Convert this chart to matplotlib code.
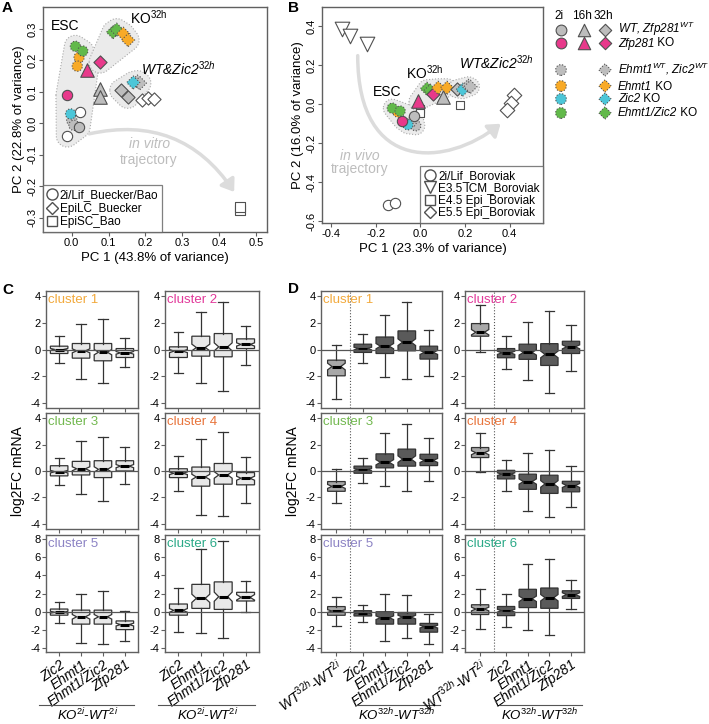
import numpy as np
import matplotlib
matplotlib.use("Agg")
import matplotlib.pyplot as plt
from matplotlib.patches import Polygon, FancyArrowPatch
from matplotlib.path import Path
from matplotlib.lines import Line2D

plt.rcParams['font.family'] = ['Liberation Sans', 'DejaVu Sans']
plt.rcParams['mathtext.fontset'] = 'custom'
plt.rcParams['mathtext.rm'] = 'Liberation Sans'
plt.rcParams['mathtext.it'] = 'Liberation Sans:italic'
plt.rcParams['mathtext.bf'] = 'Liberation Sans:bold'
plt.rcParams['axes.unicode_minus'] = False

# ---------------- DATA: PCA panel A (PC1, PC2) ----------------
a_wt_2i = [(0.02, -0.012)]
a_wt_16h = [(0.077, 0.108), (0.077, 0.085)]
a_wt_32h = [(0.133, 0.105), (0.152, 0.083)]
a_zfp_2i = [(-0.013, 0.09)]
a_zfp_16h = [(0.042, 0.17)]
a_zfp_32h = [(0.077, 0.195)]
a_ctl_2i = [(0.0, 0.01), (0.006, -0.006)]
a_ctl_32h = [(0.178, 0.133), (0.185, 0.128)]
a_ehmt_2i = [(0.02, 0.21), (0.015, 0.182)]
a_ehmt_32h = [(0.14, 0.285), (0.153, 0.265)]
a_zic_2i = [(-0.003, 0.03)]
a_zic_32h = [(0.167, 0.13)]
a_dko_2i = [(0.01, 0.245), (0.03, 0.23)]
a_dko_32h = [(0.112, 0.29), (0.122, 0.298)]
a_pub_2i = [(0.022, 0.035), (-0.012, -0.04)]
a_epilc = [(0.19, 0.075), (0.208, 0.08), (0.223, 0.077)]
a_episc = [(0.456, -0.276), (0.458, -0.266)]

# ---------------- DATA: PCA panel B ----------------
b_wt_2i = [(-0.03, -0.06)]
b_wt_16h = [(0.10, 0.04)]
b_wt_32h = [(0.165, 0.08)]
b_zfp_2i = [(-0.08, -0.085)]
b_zfp_16h = [(-0.01, 0.015)]
b_zfp_32h = [(0.055, 0.055)]
b_ctl_2i = [(-0.02, -0.11), (-0.04, -0.09)]
b_ctl_32h = [(0.215, 0.095), (0.225, 0.09)]
b_ehmt_2i = [(-0.1, -0.04)]
b_ehmt_32h = [(0.08, 0.085), (0.12, 0.085)]
b_zic_2i = [(-0.055, -0.105)]
b_zic_32h = [(0.19, 0.075)]
b_dko_2i = [(-0.125, -0.02), (-0.09, -0.035)]
b_dko_32h = [(0.03, 0.08), (0.045, 0.07)]
b_bor_2i = [(-0.145, -0.52), (-0.115, -0.505)]
b_e35 = [(-0.35, 0.385), (-0.315, 0.35), (-0.24, 0.31)]
b_e45 = [(0.0, -0.025), (0.0, -0.045), (0.18, -0.005)]
b_e55 = [(0.42, 0.048), (0.405, 0.008), (0.39, -0.03)]

# ---------------- DATA: boxplots ----------------
clusters = ['cluster 1', 'cluster 2', 'cluster 3', 'cluster 4', 'cluster 5', 'cluster 6']
cluster_colors = ['#f2a93b', '#e2399a', '#72b84f', '#e8743b', '#8c83c4', '#2aa987']
ko_labels = ['Zic2', 'Ehmt1', 'Ehmt1/Zic2', 'Zfp281']

c_med = [[0.0, -0.1, -0.2, -0.25], [-0.12, 0.15, 0.2, 0.38], [-0.05, 0.17, 0.12, 0.37],
         [-0.17, -0.45, -0.3, -0.55], [-0.05, -0.55, -0.55, -1.4], [0.15, 1.47, 1.65, 1.58]]
c_q1 = [[-0.3, -0.65, -0.85, -0.6], [-0.6, -0.5, -0.55, 0.07], [-0.37, -0.3, -0.5, 0.0],
        [-0.5, -1.15, -1.0, -1.05], [-0.37, -1.35, -1.35, -1.95], [-0.37, 0.37, 0.26, 1.18]]
c_q3 = [[0.25, 0.45, 0.45, 0.07], [0.2, 1.0, 1.2, 0.8], [0.4, 0.73, 0.78, 0.78],
        [0.17, 0.3, 0.57, -0.12], [0.3, 0.18, 0.18, -1.0], [0.85, 3.0, 3.27, 2.13]]
c_lo = [[-1.05, -2.2, -2.55, -1.35], [-1.8, -2.5, -3.15, -1.15], [-1.05, -1.75, -2.3, -0.98],
        [-1.5, -3.3, -3.4, -2.4], [-1.25, -3.4, -3.5, -3.25], [-2.2, -2.28, -2.83, -0.07]]
c_hi = [[1.0, 1.9, 2.3, 0.9], [1.3, 2.8, 3.6, 1.8], [1.0, 2.27, 2.55, 1.83],
        [1.17, 2.45, 2.93, 1.1], [1.1, 2.0, 2.3, 0.1], [2.57, 6.87, 7.7, 3.38]]
c_notch = [[0.08, 0.15, 0.2, 0.1], [0.12, 0.25, 0.3, 0.12], [0.1, 0.15, 0.2, 0.12],
           [0.1, 0.2, 0.25, 0.15], [0.1, 0.25, 0.25, 0.15], [0.2, 0.45, 0.5, 0.3]]

d_med = [[-1.28, 0.07, 0.25, 0.55, -0.22], [1.3, -0.25, -0.22, -0.37, 0.2], [-1.17, 0.1, 0.66, 0.9, 0.8],
         [1.39, -0.24, -0.8, -0.98, -1.1], [0.08, -0.12, -0.65, -0.58, -1.62], [0.3, 0.12, 1.42, 1.54, 1.88]]
d_q1 = [[-1.98, -0.22, -0.3, -0.1, -0.72], [1.0, -0.62, -0.74, -1.2, -0.3], [-1.54, -0.17, 0.24, 0.37, 0.41],
        [1.02, -0.6, -1.39, -1.7, -1.58], [-0.38, -0.46, -1.35, -1.35, -2.23], [-0.3, -0.42, 0.46, 0.38, 1.46]]
d_q3 = [[-0.8, 0.4, 0.94, 1.4, 0.25], [1.95, 0.07, 0.4, 0.44, 0.62], [-0.8, 0.37, 1.3, 1.66, 1.27],
        [1.78, 0.05, -0.24, -0.32, -0.78], [0.57, 0.12, 0.0, -0.08, -1.27], [0.77, 0.58, 2.46, 2.6, 2.3]]
d_lo = [[-3.75, -1.04, -2.07, -2.2, -2.02], [-0.22, -1.48, -2.27, -3.3, -1.58], [-2.44, -0.9, -1.17, -1.54, -0.78],
        [-0.05, -1.5, -3.05, -3.49, -2.76], [-1.54, -1.15, -3.15, -2.88, -3.54], [-1.92, -1.65, -2.04, -2.5, 0.3]]
d_hi = [[0.32, 1.2, 2.6, 3.6, 1.5], [3.35, 1.0, 2.1, 2.9, 1.85], [0.17, 1.02, 2.88, 3.58, 2.49],
        [2.88, 0.85, 1.34, 1.58, 0.37], [1.65, 0.77, 2.0, 1.8, -0.2], [2.5, 2.0, 5.2, 5.77, 3.46]]
d_notch = [[0.25, 0.1, 0.2, 0.25, 0.15], [0.2, 0.12, 0.2, 0.25, 0.15], [0.15, 0.08, 0.2, 0.25, 0.15],
           [0.15, 0.1, 0.2, 0.25, 0.15], [0.15, 0.1, 0.2, 0.2, 0.15], [0.2, 0.15, 0.3, 0.35, 0.2]]

# ---------------- STYLE ----------------
GRAY = '#bdbdbd'
MAG = '#e8398b'
ORA = '#f8aa27'
CYA = '#4cc6d8'
GRN = '#62b94a'
EDGE = '#505050'
SPINE = '#606060'

W, H = 709, 724
fig = plt.figure(figsize=(W / 100, H / 100), dpi=100)


def px(l, t, r, b):
    return [l / W, 1 - b / H, (r - l) / W, (b - t) / H]


def dots(ax, pts, marker, color, s, ls='solid'):
    p = np.array(pts)
    ax.scatter(p[:, 0], p[:, 1], marker=marker, s=s, c=color, edgecolors=EDGE,
               linewidths=0.8, linestyles=ls, zorder=3)


def convex(points):
    pts = sorted(map(tuple, points))

    def cross(o, a, b):
        return (a[0] - o[0]) * (b[1] - o[1]) - (a[1] - o[1]) * (b[0] - o[0])
    lower, upper = [], []
    for p in pts:
        while len(lower) >= 2 and cross(lower[-2], lower[-1], p) <= 0:
            lower.pop()
        lower.append(p)
    for p in reversed(pts):
        while len(upper) >= 2 and cross(upper[-2], upper[-1], p) <= 0:
            upper.pop()
        upper.append(p)
    return lower[:-1] + upper[:-1]


def add_hull(ax, pts, r):
    # shaded group outline: hull of the points, padded by r pixels
    disp = ax.transData.transform(np.array(pts))
    ang = np.linspace(0, 2 * np.pi, 40, endpoint=False)
    ring = np.vstack([p + r * np.column_stack([np.cos(ang), np.sin(ang)]) for p in disp])
    h = ax.transData.inverted().transform(np.array(convex(ring)))
    ax.add_patch(Polygon(h, closed=True, facecolor='#ebebeb', edgecolor='#aaaaaa',
                         lw=0.8, ls=':', zorder=1))


def style_pca(ax):
    for sp in ax.spines.values():
        sp.set_color(SPINE)
        sp.set_linewidth(1.0)
    ax.tick_params(length=3, width=0.8, pad=1, labelsize=8, color=SPINE)


WTZIC = r'WT&Zic2$^{\mathit{32h}}$'

# ---------------- PANEL A ----------------
axA = fig.add_axes(px(43, 7, 267, 232))
axA.set_xlim(-0.078, 0.53)
axA.set_ylim(-0.345, 0.37)
style_pca(axA)
axA.set_xticks(np.round(np.arange(0, 0.51, 0.1), 1))
axA.set_xticklabels(['0.0', '0.1', '0.2', '0.3', '0.4', '0.5'])
axA.set_yticks(np.round(np.arange(-0.3, 0.31, 0.1), 1))
axA.set_yticklabels(['-0.3', '-0.2', '-0.1', '0.0', '0.1', '0.2', '0.3'], rotation=90, va='center')
axA.set_xlabel('PC 1 (43.8% of variance)', fontsize=9.5, labelpad=3)
axA.set_ylabel('PC 2 (22.8% of variance)', fontsize=9.5, labelpad=2)

add_hull(axA, a_wt_2i + a_zfp_2i + a_ctl_2i + a_ehmt_2i + a_zic_2i + a_dko_2i + a_pub_2i + a_zfp_16h, 11)
add_hull(axA, a_zfp_32h + a_ehmt_32h + a_dko_32h, 11)
add_hull(axA, a_wt_32h + a_ctl_32h + a_zic_32h, 11)

axA.add_patch(FancyArrowPatch((0.04, -0.035), (0.445, -0.225), connectionstyle='arc3,rad=-0.35',
                              arrowstyle='-|>,head_length=7,head_width=5', color='#dcdcdc', lw=2.5, zorder=1))
axA.text(0.21, -0.065, 'in vitro', style='italic', color='#bdbdbd', fontsize=10, ha='center', va='center')
axA.text(0.21, -0.115, 'trajectory', color='#bdbdbd', fontsize=10, ha='center', va='center')

dots(axA, a_pub_2i, 'o', 'white', 55)
dots(axA, a_epilc, 'D', 'white', 45)
dots(axA, a_episc, 's', 'white', 55)
dots(axA, a_ctl_2i, 'o', GRAY, 55, ':')
dots(axA, a_wt_2i, 'o', GRAY, 55)
dots(axA, a_zic_2i, 'o', CYA, 55, ':')
dots(axA, a_zfp_2i, 'o', MAG, 55)
dots(axA, a_ehmt_2i, 'o', ORA, 55, ':')
dots(axA, a_dko_2i, 'o', GRN, 55, ':')
dots(axA, a_wt_16h, '^', GRAY, 95)
dots(axA, a_zfp_16h, '^', MAG, 95)
dots(axA, a_wt_32h, 'D', GRAY, 45)
dots(axA, a_ctl_32h, 'D', GRAY, 45, ':')
dots(axA, a_zic_32h, 'D', CYA, 45, ':')
dots(axA, a_zfp_32h, 'D', MAG, 45)
dots(axA, a_dko_32h, 'D', GRN, 45, ':')
dots(axA, a_ehmt_32h, 'D', ORA, 45, ':')

axA.text(-0.018, 0.31, 'ESC', fontsize=10, ha='center', va='center')
axA.text(0.21, 0.335, r'KO$^{\mathrm{32h}}$', fontsize=10, ha='center', va='center')
axA.text(0.29, 0.175, WTZIC, fontsize=10, ha='center', va='center', style='italic')

hA = [Line2D([], [], marker='o', ls='none', mfc='white', mec=EDGE, ms=8),
      Line2D([], [], marker='D', ls='none', mfc='white', mec=EDGE, ms=6.5),
      Line2D([], [], marker='s', ls='none', mfc='white', mec=EDGE, ms=7.5)]
legA = axA.legend(hA, ['2i/Lif_Buecker/Bao', 'EpiLC_Buecker', 'EpiSC_Bao'], loc='lower left',
                  borderaxespad=0, fancybox=False, edgecolor=SPINE, fontsize=8.5, handletextpad=0.1,
                  handlelength=1.0, labelspacing=0.15, borderpad=0.3)
legA.get_frame().set_linewidth(0.9)

# ---------------- PANEL B ----------------
axB = fig.add_axes(px(322, 7, 543, 223))
axB.set_xlim(-0.44, 0.55)
axB.set_ylim(-0.61, 0.5)
style_pca(axB)
axB.set_xticks([-0.4, -0.2, 0.0, 0.2, 0.4])
axB.set_xticklabels(['-0.4', '-0.2', '0.0', '0.2', '0.4'])
axB.set_yticks([-0.6, -0.4, -0.2, 0.0, 0.2, 0.4])
axB.set_yticklabels(['-0.6', '-0.4', '-0.2', '0.0', '0.2', '0.4'], rotation=90, va='center')
axB.set_xlabel('PC 1 (23.3% of variance)', fontsize=9.5, labelpad=3)
axB.set_ylabel('PC 2 (16.0% of variance)', fontsize=9.5, labelpad=2)

add_hull(axB, b_wt_2i + b_zfp_2i + b_ctl_2i + b_ehmt_2i + b_zic_2i + b_dko_2i, 9)
add_hull(axB, b_zfp_32h + b_ehmt_32h + b_dko_32h + b_zfp_16h, 9)
add_hull(axB, b_wt_32h + b_ctl_32h + b_zic_32h, 9)

vivo = Path([(-0.28, 0.25), (-0.28, -0.36), (0.12, -0.32), (0.36, -0.1)],
            [Path.MOVETO, Path.CURVE4, Path.CURVE4, Path.CURVE4])
axB.add_patch(FancyArrowPatch(path=vivo, arrowstyle='-|>,head_length=7,head_width=5',
                              color='#dcdcdc', lw=2.5, zorder=1))
axB.text(-0.27, -0.265, 'in vivo', style='italic', color='#bdbdbd', fontsize=10, ha='center', va='center')
axB.text(-0.27, -0.335, 'trajectory', color='#bdbdbd', fontsize=10, ha='center', va='center')

dots(axB, b_bor_2i, 'o', 'white', 55)
dots(axB, b_e35, 'v', 'white', 110)
dots(axB, b_e45, 's', 'white', 40)
dots(axB, b_e55, 'D', 'white', 55)
dots(axB, b_ehmt_2i, 'o', ORA, 55, ':')
dots(axB, b_dko_2i, 'o', GRN, 55, ':')
dots(axB, b_ctl_2i, 'o', GRAY, 55, ':')
dots(axB, b_wt_2i, 'o', GRAY, 55)
dots(axB, b_zic_2i, 'o', CYA, 55, ':')
dots(axB, b_zfp_2i, 'o', MAG, 55)
dots(axB, b_wt_16h, '^', GRAY, 95)
dots(axB, b_zfp_16h, '^', MAG, 95)
dots(axB, b_dko_32h, 'D', GRN, 45, ':')
dots(axB, b_zfp_32h, 'D', MAG, 45)
dots(axB, b_ehmt_32h, 'D', ORA, 45, ':')
dots(axB, b_wt_32h, 'D', GRAY, 45)
dots(axB, b_zic_32h, 'D', CYA, 45, ':')
dots(axB, b_ctl_32h, 'D', GRAY, 45, ':')

axB.text(-0.15, 0.065, 'ESC', fontsize=10, ha='center', va='center')
axB.text(0.02, 0.16, r'KO$^{\mathrm{32h}}$', fontsize=10, ha='center', va='center')
axB.text(0.34, 0.215, WTZIC, fontsize=10, ha='center', va='center', style='italic')

hB = [Line2D([], [], marker='o', ls='none', mfc='white', mec=EDGE, ms=8),
      Line2D([], [], marker='v', ls='none', mfc='white', mec=EDGE, ms=8.5),
      Line2D([], [], marker='s', ls='none', mfc='white', mec=EDGE, ms=7.5),
      Line2D([], [], marker='D', ls='none', mfc='white', mec=EDGE, ms=6.5)]
legB = axB.legend(hB, ['2i/Lif_Boroviak', 'E3.5 ICM_Boroviak', 'E4.5 Epi_Boroviak', 'E5.5 Epi_Boroviak'],
                  loc='lower right', borderaxespad=0, fancybox=False, edgecolor=SPINE, fontsize=8.5,
                  handletextpad=0.2, handlelength=1.0, labelspacing=0.05, borderpad=0.3)
legB.get_frame().set_linewidth(0.9)

# ---------------- KEY (top right) ----------------
axK = fig.add_axes(px(540, 0, 709, 130))
axK.set_xlim(540, 709)
axK.set_ylim(130, 0)
axK.axis('off')
key_cols = [561, 584, 605]
for x, t in zip(key_cols, ['2i', '16h', '32h']):
    axK.text(x - 2, 16, t, fontsize=8.5, ha='center', va='center')
key_rows = [30, 43, 70, 86, 99, 113]
key_colors = [GRAY, MAG, GRAY, ORA, CYA, GRN]
key_gene = [r'WT, Zfp281$^{\mathit{WT}}$', 'Zfp281', r'Ehmt1$^{\mathit{WT}}$, Zic2$^{\mathit{WT}}$',
            'Ehmt1', 'Zic2', 'Ehmt1/Zic2']
key_suffix = ['', ' KO', '', ' KO', ' KO', ' KO']
for i, (y, col) in enumerate(zip(key_rows, key_colors)):
    ls = 'solid' if i < 2 else ':'
    axK.scatter([key_cols[0]], [y], marker='o', s=60, c=col, edgecolors=EDGE, linewidths=0.8, linestyles=ls)
    if i < 2:
        axK.scatter([key_cols[1]], [y], marker='^', s=80, c=col, edgecolors=EDGE, linewidths=0.8)
    axK.scatter([key_cols[2]], [y], marker='D', s=40, c=col, edgecolors=EDGE, linewidths=0.8, linestyles=ls)
    g = axK.text(618, y + 3.5, key_gene[i], fontsize=8.5, ha='left', va='baseline', style='italic')
    if key_suffix[i]:
        axK.annotate(key_suffix[i], xy=(1, 0), xycoords=g, fontsize=8.5, ha='left', va='bottom')

# ---------------- PANELS C / D ----------------
rows = [(291, 408), (413, 529), (535, 652)]
c_cols = [(46, 138), (165, 259)]
d_cols = [(321, 442), (465, 584)]
c_pos = [1, 2, 3, 4]
d_pos = [1, 2.2, 3.2, 4.2, 5.2]
d_ticklabels = [r'WT$^{\mathit{32h}}$-WT$^{\mathit{2i}}$'] + ko_labels


def box_panel(ax, pos, med, q1, q3, lo, hi, notch, faces):
    stats = [dict(med=m, q1=a, q3=b, whislo=l, whishi=h, cilo=m - n, cihi=m + n)
             for m, a, b, l, h, n in zip(med, q1, q3, lo, hi, notch)]
    bp = ax.bxp(stats, positions=pos, widths=0.8, capwidths=0.42, shownotches=True, showfliers=False,
                patch_artist=True, manage_ticks=False,
                boxprops=dict(edgecolor='#333333', lw=0.9),
                medianprops=dict(color='black', lw=2.2),
                whiskerprops=dict(color='#333333', lw=0.9),
                capprops=dict(color='#333333', lw=0.9))
    for patch, fc in zip(bp['boxes'], faces):
        patch.set_facecolor(fc)


for k in range(6):
    r, c = k // 2, k % 2
    t, b = rows[r]
    for side in ('C', 'D'):
        if side == 'C':
            l, rr = c_cols[c]
            pos = c_pos
            ax = fig.add_axes(px(l, t, rr, b))
            ax.set_xlim(0.4, 4.6)
            box_panel(ax, pos, c_med[k], c_q1[k], c_q3[k], c_lo[k], c_hi[k], c_notch[k], ['#e8e8e8'] * 4)
        else:
            l, rr = d_cols[c]
            pos = d_pos
            ax = fig.add_axes(px(l, t, rr, b))
            ax.set_xlim(0.3, 5.8)
            box_panel(ax, pos, d_med[k], d_q1[k], d_q3[k], d_lo[k], d_hi[k], d_notch[k],
                      ['#a8a8a8'] + ['#5a5a5a'] * 4)
            ax.axvline(1.62, color='#555555', lw=0.8, ls=':', zorder=0.5)
        ax.axhline(0, color='#555555', lw=0.9, zorder=4)
        if r < 2:
            ax.set_ylim(-4.4, 4.4)
            ax.set_yticks([-4, -2, 0, 2, 4])
        else:
            ax.set_ylim(-4.4, 8.4)
            ax.set_yticks([-4, -2, 0, 2, 4, 6, 8])
        for sp in ax.spines.values():
            sp.set_color(SPINE)
            sp.set_linewidth(1.0)
        ax.tick_params(length=3, width=0.8, pad=1, labelsize=8, color=SPINE)
        ax.annotate(clusters[k], (0, 1), xycoords='axes fraction', xytext=(1.5, -2),
                    textcoords='offset points', ha='left', va='top', fontsize=9.5, color=cluster_colors[k])
        if r == 2:
            labels = ko_labels if side == 'C' else d_ticklabels
            ax.set_xticks(pos, labels, rotation=35, ha='right', rotation_mode='anchor',
                          fontsize=10, style='italic')
            tr = ax.get_xaxis_transform()
            if side == 'C':
                x0, x1, xm = 0.1, 4.4, 2.3
                lab = r'KO$^{\mathit{2i}}$-WT$^{\mathit{2i}}$'
            else:
                x0, x1, xm = 1.9, 5.7, 3.75
                lab = r'KO$^{\mathit{32h}}$-WT$^{\mathit{32h}}$'
            ax.plot([x0, x1], [-0.45, -0.45], transform=tr, clip_on=False, color='#555555', lw=0.8)
            ax.text(xm, -0.465, lab, transform=tr, ha='center', va='top', fontsize=9.5, style='italic')
        else:
            ax.set_xticks(pos)
            ax.set_xticklabels([])
        if r == 1 and c == 0:
            ax.set_ylabel('log2FC mRNA', fontsize=10, labelpad=4)

# panel letters
for lab, (x, y) in zip('ABCD', [(2, 8), (288, 8), (2, 290), (288, 289)]):
    fig.text(x / W, 1 - y / H, lab, fontsize=11, fontweight='bold', ha='left', va='center')

fig.savefig('out.png', dpi=100)
